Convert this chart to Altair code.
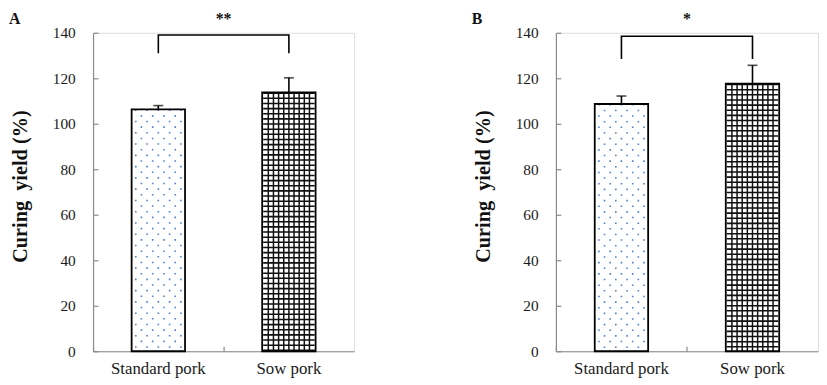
import altair as alt
import pandas as pd

categories = ["Standard pork", "Sow pork"]

a_means = [106.3, 113.8]
a_errors = [1.7, 6.4]
a_bracket = [139.0, 131.0]   # top, ends
a_stars = "**"

b_means = [108.7, 117.6]
b_errors = [3.5, 8.1]
b_bracket = [138.5, 128.5]
b_stars = "*"

y_ticks = [0, 20, 40, 60, 80, 100, 120, 140]

SERIF = "Liberation Serif, Times New Roman, serif"
H = 322
BAR_W = 54
AXIS_GREY = "#8a8a8a"
DOT_BLUE = "#4f80cc"
TITLE_FS = 16


def panel(means, errors, bracket, stars, letter, W):
    df = pd.DataFrame({
        "cat": categories,
        "mean": means,
        "top": [m + e for m, e in zip(means, errors)],
    })
    br = pd.DataFrame({
        "cat": [categories[0], categories[0], categories[1], categories[1]],
        "y": [bracket[1], bracket[0], bracket[0], bracket[1]],
        "o": [0, 1, 2, 3],
    })
    st = pd.DataFrame({"cat": [categories[0]], "y": [149.5], "t": [stars]})

    xscale = alt.Scale(domain=categories, paddingInner=0, paddingOuter=0)
    yscale = alt.Scale(domain=[0, 140], nice=False)

    x_main = alt.X("cat:N", scale=xscale, title=None, sort=categories,
                   axis=alt.Axis(ticks=False, domainColor=AXIS_GREY, domainWidth=1.2,
                                 labelFont=SERIF, labelFontSize=17, labelColor="#1a1a1a",
                                 labelAngle=0, labelPadding=10))
    y_main = alt.Y("mean:Q", scale=yscale,
                   title="Curing\u00a0 yield (%)",
                   axis=alt.Axis(values=y_ticks, ticks=False, domainColor=AXIS_GREY,
                                 domainWidth=1.2, grid=False,
                                 labelFont=SERIF, labelFontSize=15.5, labelColor="#1a1a1a",
                                 labelPadding=18, titleFont=SERIF, titleFontSize=20.5,
                                 titleFontWeight="bold", titleColor="#111111",
                                 titlePadding=22, titleY=155))
    x_none = alt.X("cat:N", scale=xscale, sort=categories, axis=None)
    y_none = alt.Y("mean:Q", scale=yscale, axis=None)

    base = alt.Chart(df)
    layers = []
    # white bar background
    layers.append(base.mark_bar(width=BAR_W, fill="white").encode(x=x_main, y=y_main))

    # dotted texture for standard pork
    dot_offsets = [-22.8, -17.1, -11.4, -5.7, 0, 5.7, 11.4, 17.1, 22.8]
    for i, off in enumerate(dot_offsets):
        layers.append(
            base.transform_filter(alt.datum.cat == categories[0])
            .mark_rule(xOffset=off, color=DOT_BLUE, strokeWidth=1.6,
                       strokeDash=[1.6, 9.8], strokeDashOffset=(0 if i % 2 == 0 else 5.7),
                       strokeCap="butt")
            .encode(x=x_none, y=y_none, y2=alt.Y2(datum=0))
        )

    # grid texture for sow pork
    grid_offsets = [-20.8, -15.6, -10.4, -5.2, 0, 5.2, 10.4, 15.6, 20.8]
    for off in grid_offsets:
        layers.append(
            base.transform_filter(alt.datum.cat == categories[1])
            .mark_rule(xOffset=off, color="#111111", strokeWidth=1.5)
            .encode(x=x_none, y=y_none, y2=alt.Y2(datum=0))
        )
    layers.append(
        base.transform_filter(alt.datum.cat == categories[1])
        .mark_rule(color="#111111", strokeWidth=BAR_W - 2, strokeDash=[1.6, 3.6],
                   strokeCap="butt")
        .encode(x=x_none, y=y_none, y2=alt.Y2(datum=0))
    )

    # bar outline + inward ticks (secondary axes)
    layers.append(
        base.mark_bar(width=BAR_W, fillOpacity=0, stroke="black", strokeWidth=1.8)
        .encode(
            x=alt.X("cat:N", scale=xscale, sort=categories, title=None,
                    axis=alt.Axis(orient="top", offset=-H, labels=False, domain=False,
                                  ticks=True, tickSize=5, tickColor=AXIS_GREY,
                                  tickWidth=1.2, bandPosition=0)),
            y=alt.Y("mean:Q", scale=yscale, title=None,
                    axis=alt.Axis(orient="right", offset=-W, labels=False, domain=False,
                                  values=y_ticks, ticks=True, tickSize=5,
                                  tickColor=AXIS_GREY, tickWidth=1.2, grid=False)),
        )
    )

    # error bars (upper only)
    layers.append(
        base.mark_rule(color="black", strokeWidth=1.6)
        .encode(x=x_none, y=y_none, y2="top:Q")
    )
    layers.append(
        base.mark_tick(orient="horizontal", size=10, thickness=1.6, color="black")
        .encode(x=x_none, y=alt.Y("top:Q", scale=yscale, axis=None))
    )

    # significance bracket
    layers.append(
        alt.Chart(br).mark_line(color="black", strokeWidth=1.6)
        .encode(x=x_none, y=alt.Y("y:Q", scale=yscale, axis=None), order="o:Q")
    )
    layers.append(
        alt.Chart(st).mark_text(font=SERIF, fontSize=16, fontWeight="bold",
                                baseline="top", color="#111111")
        .encode(x=alt.X("cat:N", scale=xscale, sort=categories, axis=None, bandPosition=1),
                y=alt.Y("y:Q", scale=yscale, axis=None), text="t:N")
    )

    return (
        alt.layer(*layers)
        .resolve_scale(x="shared", y="shared")
        .resolve_axis(x="independent", y="independent")
        .properties(
            width=W, height=H,
            title=alt.TitleParams(letter, anchor="start", frame="group", dx=-85,
                                  font=SERIF, fontSize=TITLE_FS, fontWeight="bold",
                                  color="#111111", offset=-TITLE_FS),
        )
    )


chart = (
    alt.hconcat(
        panel(a_means, a_errors, a_bracket, a_stars, "A", 264),
        panel(b_means, b_errors, b_bracket, b_stars, "B", 265),
        spacing=117,
    )
    .properties(padding=0)
    .configure_view(stroke=None)
    .configure(background="white")
)

chart.save("out.html", embed_options={"renderer": "svg", "actions": False})
